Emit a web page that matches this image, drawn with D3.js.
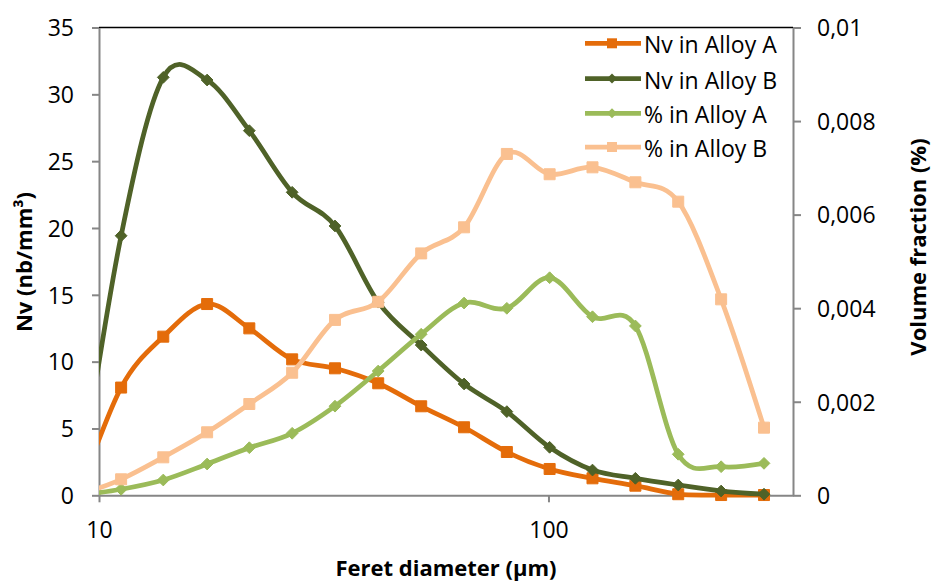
<!DOCTYPE html>
<html>
<head>
<meta charset="utf-8">
<script src="https://cdn.jsdelivr.net/npm/d3@7"></script>
<style>
  html, body { margin: 0; padding: 0; background: #fff; }
  svg { display: block; }
  text { font-family: "Open Sans", "Noto Sans", sans-serif; fill: #000; }
</style>
</head>
<body>
<svg id="chart" width="933" height="583"></svg>
<script>
// ---- data ----
const feretDiameter = [9.0, 11.2, 13.9, 17.4, 21.6, 26.9, 33.5, 41.8, 52.1, 64.9, 80.8, 100.6, 125.3, 156.1, 194.4, 242.2, 301.7];
const nvAlloyA = [0, 8.06, 11.87, 14.31, 12.49, 10.17, 9.5, 8.38, 6.66, 5.09, 3.24, 1.97, 1.27, 0.72, 0.08, 0.02, 0.02];
const nvAlloyB = [0, 19.42, 31.27, 31.07, 27.28, 22.67, 20.15, 14.45, 11.24, 8.33, 6.26, 3.59, 1.89, 1.27, 0.77, 0.32, 0.08];
const pctAlloyA = [0, 0.000129, 0.000327, 0.000669, 0.001017, 0.001326, 0.001905, 0.002657, 0.003443, 0.00411, 0.003997, 0.004651, 0.003817, 0.00362, 0.000877, 0.000611, 0.000683];
const pctAlloyB = [0, 0.000342, 0.000812, 0.001347, 0.001952, 0.00262, 0.00375, 0.004137, 0.005171, 0.005729, 0.007297, 0.006863, 0.007011, 0.006691, 0.006277, 0.004189, 0.001446];

const seriesNames = ["Nv in Alloy A", "Nv in Alloy B", "% in Alloy A", "% in Alloy B"];
const xTickValues = [10, 100];
const xTickLabels = ["10", "100"];
const leftTickValues = [0, 5, 10, 15, 20, 25, 30, 35];
const leftTickLabels = ["0", "5", "10", "15", "20", "25", "30", "35"];
const rightTickValues = [0, 0.002, 0.004, 0.006, 0.008, 0.01];
const rightTickLabels = ["0", "0,002", "0,004", "0,006", "0,008", "0,01"];
const xTitle = "Feret diameter (µm)";
const leftTitle = "Nv (nb/mm³)";
const rightTitle = "Volume fraction (%)";

// ---- layout ----
const L = 99, R = 793, T = 27.5, B = 495.3;
const svg = d3.select("#chart");

const x = d3.scaleLog().domain([10, 350]).range([L, R]);
const yL = d3.scaleLinear().domain([0, 35]).range([B, T]);
const yR = d3.scaleLinear().domain([0, 0.01]).range([B, T]);

const axisColor = "#868686";

// clip
svg.append("defs").append("clipPath").attr("id", "plotclip")
  .append("rect").attr("x", L).attr("y", T - 10).attr("width", R - L).attr("height", B - T + 20);

// top border
svg.append("line").attr("x1", L).attr("x2", R).attr("y1", T).attr("y2", T)
  .attr("stroke", "#000").attr("stroke-width", 1.5);

// axes
function styleAxis(g) {
  g.select(".domain").attr("stroke", axisColor).attr("stroke-width", 2);
  g.selectAll(".tick line").attr("stroke", axisColor).attr("stroke-width", 2);
  g.selectAll(".tick text").attr("font-size", 23).attr("font-family", "'Open Sans', 'Noto Sans', sans-serif").attr("fill", "#000");
}

const gLeft = svg.append("g").attr("transform", `translate(${L},0)`)
  .call(d3.axisLeft(yL).tickValues(leftTickValues)
    .tickFormat((d, i) => leftTickLabels[i]).tickSize(7).tickSizeOuter(0).tickPadding(18));
styleAxis(gLeft);
gLeft.selectAll(".tick text").attr("dy", "0.36em");

const gRight = svg.append("g").attr("transform", `translate(${R},0)`)
  .call(d3.axisRight(yR).tickValues(rightTickValues)
    .tickFormat((d, i) => rightTickLabels[i]).tickSize(8).tickSizeOuter(0).tickPadding(16));
styleAxis(gRight);
gRight.selectAll(".tick text").attr("dy", "0.36em");

const gBottom = svg.append("g").attr("transform", `translate(0,${B})`)
  .call(d3.axisBottom(x).tickValues(xTickValues)
    .tickFormat((d, i) => xTickLabels[i]).tickSize(7).tickSizeOuter(0));
styleAxis(gBottom);
gBottom.selectAll(".tick text").attr("dy", null).attr("y", 538 - B);

// titles
svg.append("text").attr("x", (L + R) / 2).attr("y", 576).attr("text-anchor", "middle")
  .attr("font-size", 22).attr("font-weight", "bold").text(xTitle);
svg.append("text").attr("transform", `translate(32,262) rotate(-90)`).attr("text-anchor", "middle")
  .attr("font-size", 22).attr("font-weight", "bold").text(leftTitle);
svg.append("text").attr("transform", `translate(926,247) rotate(-90)`).attr("text-anchor", "middle")
  .attr("font-size", 22).attr("font-weight", "bold").text(rightTitle);

// series
const series = [
  { name: seriesNames[0], values: nvAlloyA, y: yL, color: "#E46C0A", marker: "square" },
  { name: seriesNames[1], values: nvAlloyB, y: yL, color: "#4F6228", marker: "diamond" },
  { name: seriesNames[2], values: pctAlloyA, y: yR, color: "#9BBB59", marker: "diamond" },
  { name: seriesNames[3], values: pctAlloyB, y: yR, color: "#FAC090", marker: "square" }
];

const sqSym = d3.symbol().type(d3.symbolSquare).size(121);
const diaSym = d3.symbol().type(d3.symbolDiamond2).size(88);

const plot = svg.append("g").attr("clip-path", "url(#plotclip)");
series.forEach(s => {
  const pts = feretDiameter.map((d, i) => [d, s.values[i]]);
  const line = d3.line().x(d => x(d[0])).y(d => s.y(d[1])).curve(d3.curveCatmullRom.alpha(0));
  const g = plot.append("g");
  g.append("path").attr("d", line(pts)).attr("fill", "none")
    .attr("stroke", s.color).attr("stroke-width", 4.75).attr("stroke-linejoin", "round");
  g.selectAll("path.m").data(pts.filter(d => d[0] >= 10)).enter().append("path").attr("class", "m")
    .attr("transform", d => `translate(${x(d[0])},${s.y(d[1])})`)
    .attr("d", s.marker === "square" ? sqSym() : diaSym())
    .attr("fill", s.color).attr("stroke", s.color).attr("stroke-width", 1);
});

// legend
const legendY = [43.3, 78.5, 113.3, 147];
const leg = svg.append("g");
series.forEach((s, i) => {
  const g = leg.append("g").attr("transform", `translate(0,${legendY[i]})`);
  g.append("line").attr("x1", 585).attr("x2", 641).attr("y1", 0).attr("y2", 0)
    .attr("stroke", s.color).attr("stroke-width", 4.75);
  g.append("path").attr("transform", "translate(612,0)")
    .attr("d", s.marker === "square" ? d3.symbol().type(d3.symbolSquare).size(100)() : d3.symbol().type(d3.symbolDiamond2).size(64)())
    .attr("fill", s.color);
  g.append("text").attr("x", 644).attr("y", 10).attr("font-size", 23).text(s.name);
});
</script>
</body>
</html>
